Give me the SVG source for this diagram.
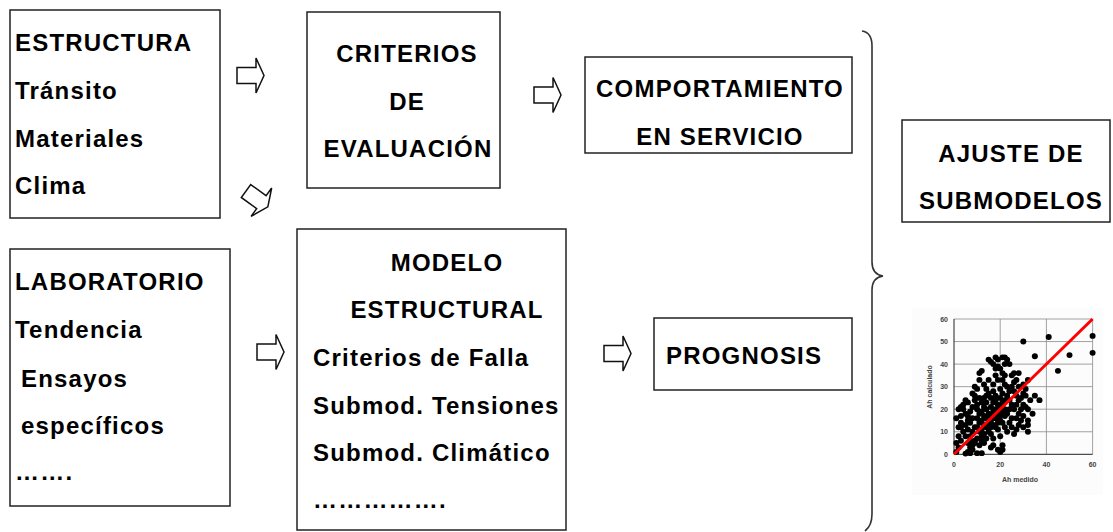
<svg xmlns="http://www.w3.org/2000/svg" xmlns:xlink="http://www.w3.org/1999/xlink" width="1113" height="532" viewBox="0 0 1113 532">
<style>
.box{fill:#fff;stroke:#222;stroke-width:1.5}
.t{font-family:"Liberation Sans",Arial,sans-serif;font-weight:bold;font-size:24px;letter-spacing:1.2px;fill:#000}
.c{text-anchor:middle}
.arr{fill:#fff;stroke:#111;stroke-width:1.5;stroke-linejoin:miter}
.grid{stroke:#8a8a8a;stroke-width:0.8;fill:none}
.tick{font-family:"Liberation Sans",Arial,sans-serif;font-weight:bold;font-size:7px;fill:#444}
.pts circle{fill:#000}
</style>
<defs>
<path id="arrow" class="arr" d="M0,-8 H19 V-17.5 L27,0 L19,17.5 V8 H0 Z"/>
</defs>
<rect width="1113" height="532" fill="#fff"/>

<g id="estructura">
<rect class="box" x="10" y="10" width="210" height="208"/>
<text class="t" x="15" y="51">ESTRUCTURA</text>
<text class="t" x="15" y="99">Tránsito</text>
<text class="t" x="15" y="147">Materiales</text>
<text class="t" x="15" y="194">Clima</text>
</g>

<g id="criterios">
<rect class="box" x="307" y="12" width="193" height="176"/>
<text class="t c" x="407" y="62">CRITERIOS</text>
<text class="t c" x="407" y="110">DE</text>
<text class="t c" x="408" y="157">EVALUACIÓN</text>
</g>

<g id="comportamiento">
<rect class="box" x="585" y="57" width="267" height="96"/>
<text class="t c" x="720" y="97">COMPORTAMIENTO</text>
<text class="t c" x="720" y="145">EN SERVICIO</text>
</g>

<g id="laboratorio">
<rect class="box" x="10" y="249" width="220" height="257"/>
<text class="t" x="15" y="290">LABORATORIO</text>
<text class="t" x="15" y="338">Tendencia</text>
<text class="t" x="21" y="387">Ensayos</text>
<text class="t" x="21" y="434">específicos</text>
<text class="t" x="15" y="480">…….</text>
</g>

<g id="modelo">
<rect class="box" x="297" y="229" width="269" height="301"/>
<text class="t c" x="447" y="271">MODELO</text>
<text class="t c" x="447" y="318">ESTRUCTURAL</text>
<text class="t" x="313" y="366">Criterios de Falla</text>
<text class="t" x="313" y="414">Submod. Tensiones</text>
<text class="t" x="313" y="461">Submod.  Climático</text>
<text class="t" x="313" y="508">…………….</text>
</g>

<g id="prognosis">
<rect class="box" x="654" y="318" width="198" height="72"/>
<text class="t" x="666" y="364">PROGNOSIS</text>
</g>

<g id="ajuste">
<rect class="box" x="902" y="120" width="208" height="102"/>
<text class="t c" x="1011" y="162">AJUSTE DE</text>
<text class="t c" x="1011" y="209">SUBMODELOS</text>
</g>

<g id="connectors">
<use xlink:href="#arrow" transform="translate(237,75.5)"/>
<use xlink:href="#arrow" transform="translate(246,191) rotate(36)"/>
<use xlink:href="#arrow" transform="translate(534,95)"/>
<use xlink:href="#arrow" transform="translate(257,352)"/>
<use xlink:href="#arrow" transform="translate(604,353.5)"/>
<path d="M862,31 C869,32 872,37 872,46 L872,262 C872,270 876,275 883,276 C876,277 872,282 872,290 L872,514 C872,523 869,528 865,531" fill="none" stroke="#333" stroke-width="1.6"/>
</g>

<g id="grafico">
<rect x="912" y="308" width="191" height="187" fill="#fcfcfc"/>
<g class="grid">
<line x1="1000.2" y1="319" x2="1000.2" y2="454.3"/>
<line x1="1046.4" y1="319" x2="1046.4" y2="454.3"/>
<line x1="1092.6" y1="319" x2="1092.6" y2="454.3"/>
<line x1="954" y1="319" x2="1092.6" y2="319"/>
<line x1="954" y1="341.55" x2="1092.6" y2="341.55"/>
<line x1="954" y1="364.1" x2="1092.6" y2="364.1"/>
<line x1="954" y1="386.65" x2="1092.6" y2="386.65"/>
<line x1="954" y1="409.2" x2="1092.6" y2="409.2"/>
<line x1="954" y1="431.75" x2="1092.6" y2="431.75"/>
</g>
<path d="M954,319 V454.3 H1092.6" fill="none" stroke="#222" stroke-width="1"/>
<g class="tick" text-anchor="end">
<text x="948" y="321.5">60</text>
<text x="948" y="344">50</text>
<text x="948" y="366.6">40</text>
<text x="948" y="389.1">30</text>
<text x="948" y="411.7">20</text>
<text x="948" y="434.2">10</text>
<text x="948" y="456.8">0</text>
</g>
<g class="tick" text-anchor="middle">
<text x="954" y="467">0</text>
<text x="1000.2" y="467">20</text>
<text x="1046.4" y="467">40</text>
<text x="1092.6" y="467">60</text>
<text x="1020" y="482">Ah medido</text>
<text transform="translate(932,387) rotate(-90)">Ah calculado</text>
</g>
<g class="pts" transform="translate(954 454.3) scale(2.31 -2.255)">
<circle cx="1" cy="1" r="1.3"/><circle cx="2" cy="3" r="1.3"/><circle cx="1" cy="5" r="1.3"/><circle cx="2" cy="8" r="1.3"/><circle cx="3" cy="6" r="1.3"/><circle cx="4" cy="10" r="1.3"/><circle cx="2" cy="12" r="1.3"/><circle cx="3" cy="14" r="1.3"/><circle cx="1" cy="16" r="1.3"/><circle cx="3" cy="17" r="1.3"/><circle cx="2" cy="20" r="1.3"/><circle cx="3" cy="21" r="1.3"/><circle cx="4" cy="20" r="1.3"/><circle cx="5" cy="18" r="1.3"/><circle cx="5" cy="13" r="1.3"/><circle cx="6" cy="11" r="1.3"/><circle cx="5" cy="8" r="1.3"/><circle cx="6" cy="5" r="1.3"/><circle cx="7" cy="3" r="1.3"/><circle cx="6" cy="1" r="1.3"/><circle cx="7" cy="0.5" r="1.3"/><circle cx="8" cy="2" r="1.3"/><circle cx="8" cy="4" r="1.3"/><circle cx="9" cy="6" r="1.3"/><circle cx="7" cy="8" r="1.3"/><circle cx="8" cy="10" r="1.3"/><circle cx="9" cy="12" r="1.3"/><circle cx="7" cy="14" r="1.3"/><circle cx="8" cy="16" r="1.3"/><circle cx="6" cy="17" r="1.3"/><circle cx="7" cy="19" r="1.3"/><circle cx="8" cy="21" r="1.3"/><circle cx="6" cy="23" r="1.3"/><circle cx="9" cy="24" r="1.3"/><circle cx="10" cy="22" r="1.3"/><circle cx="10" cy="20" r="1.3"/><circle cx="11" cy="18" r="1.3"/><circle cx="10" cy="16" r="1.3"/><circle cx="11" cy="14" r="1.3"/><circle cx="10" cy="12" r="1.3"/><circle cx="11" cy="10" r="1.3"/><circle cx="12" cy="8" r="1.3"/><circle cx="10" cy="7" r="1.3"/><circle cx="9" cy="5" r="1.3"/><circle cx="11" cy="4" r="1.3"/><circle cx="12" cy="6" r="1.3"/><circle cx="13" cy="9" r="1.3"/><circle cx="12" cy="11" r="1.3"/><circle cx="13" cy="13" r="1.3"/><circle cx="12" cy="15" r="1.3"/><circle cx="13" cy="17" r="1.3"/><circle cx="12" cy="19" r="1.3"/><circle cx="13" cy="21" r="1.3"/><circle cx="12" cy="23" r="1.3"/><circle cx="11" cy="25" r="1.3"/><circle cx="13" cy="25" r="1.3"/><circle cx="14" cy="23" r="1.3"/><circle cx="14" cy="20" r="1.3"/><circle cx="15" cy="18" r="1.3"/><circle cx="14" cy="16" r="1.3"/><circle cx="15" cy="14" r="1.3"/><circle cx="14" cy="12" r="1.3"/><circle cx="15" cy="10" r="1.3"/><circle cx="16" cy="12" r="1.3"/><circle cx="16" cy="15" r="1.3"/><circle cx="16" cy="17" r="1.3"/><circle cx="17" cy="19" r="1.3"/><circle cx="16" cy="21" r="1.3"/><circle cx="17" cy="23" r="1.3"/><circle cx="16" cy="25" r="1.3"/><circle cx="15" cy="27" r="1.3"/><circle cx="17" cy="28" r="1.3"/><circle cx="18" cy="26" r="1.3"/><circle cx="18" cy="24" r="1.3"/><circle cx="19" cy="22" r="1.3"/><circle cx="18" cy="20" r="1.3"/><circle cx="19" cy="18" r="1.3"/><circle cx="18" cy="16" r="1.3"/><circle cx="19" cy="14" r="1.3"/><circle cx="18" cy="12" r="1.3"/><circle cx="20" cy="15" r="1.3"/><circle cx="20" cy="17" r="1.3"/><circle cx="21" cy="19" r="1.3"/><circle cx="20" cy="21" r="1.3"/><circle cx="21" cy="23" r="1.3"/><circle cx="20" cy="25" r="1.3"/><circle cx="21" cy="27" r="1.3"/><circle cx="20" cy="29" r="1.3"/><circle cx="22" cy="31" r="1.3"/><circle cx="21" cy="33" r="1.3"/><circle cx="22" cy="35" r="1.3"/><circle cx="20" cy="38" r="1.3"/><circle cx="22" cy="40" r="1.3"/><circle cx="23" cy="42" r="1.3"/><circle cx="22" cy="43" r="1.3"/><circle cx="19" cy="39" r="1.3"/><circle cx="18" cy="38" r="1.3"/><circle cx="17" cy="40" r="1.3"/><circle cx="16" cy="41" r="1.3"/><circle cx="15" cy="42" r="1.3"/><circle cx="12" cy="37" r="1.3"/><circle cx="11" cy="36" r="1.3"/><circle cx="18" cy="43" r="1.3"/><circle cx="21" cy="36" r="1.3"/><circle cx="23" cy="30" r="1.3"/><circle cx="24" cy="28" r="1.3"/><circle cx="23" cy="26" r="1.3"/><circle cx="24" cy="24" r="1.3"/><circle cx="25" cy="22" r="1.3"/><circle cx="24" cy="20" r="1.3"/><circle cx="23" cy="18" r="1.3"/><circle cx="25" cy="16" r="1.3"/><circle cx="24" cy="14" r="1.3"/><circle cx="22" cy="12" r="1.3"/><circle cx="23" cy="10" r="1.3"/><circle cx="25" cy="30" r="1.3"/><circle cx="26" cy="32" r="1.3"/><circle cx="25" cy="35" r="1.3"/><circle cx="27" cy="33" r="1.3"/><circle cx="28" cy="30" r="1.3"/><circle cx="26" cy="28" r="1.3"/><circle cx="27" cy="26" r="1.3"/><circle cx="28" cy="24" r="1.3"/><circle cx="27" cy="22" r="1.3"/><circle cx="26" cy="20" r="1.3"/><circle cx="28" cy="18" r="1.3"/><circle cx="27" cy="16" r="1.3"/><circle cx="29" cy="20" r="1.3"/><circle cx="30" cy="22" r="1.3"/><circle cx="29" cy="25" r="1.3"/><circle cx="30" cy="27" r="1.3"/><circle cx="31" cy="29" r="1.3"/><circle cx="30" cy="31" r="1.3"/><circle cx="32" cy="33" r="1.3"/><circle cx="31" cy="26" r="1.3"/><circle cx="32" cy="20" r="1.3"/><circle cx="33" cy="24" r="1.3"/><circle cx="35" cy="26" r="1.3"/><circle cx="37" cy="24" r="1.3"/><circle cx="34" cy="18" r="1.3"/><circle cx="32" cy="15" r="1.3"/><circle cx="32" cy="13" r="1.3"/><circle cx="32" cy="10" r="1.3"/><circle cx="30" cy="12" r="1.3"/><circle cx="26" cy="9" r="1.3"/><circle cx="27" cy="11" r="1.3"/><circle cx="21" cy="4" r="1.3"/><circle cx="21" cy="2" r="1.3"/><circle cx="20" cy="1" r="1.3"/><circle cx="17" cy="4" r="1.3"/><circle cx="16" cy="3" r="1.3"/><circle cx="19" cy="2" r="1.3"/><circle cx="12" cy="0.5" r="1.3"/><circle cx="10" cy="0.5" r="1.3"/><circle cx="5" cy="0.3" r="1.3"/><circle cx="7" cy="6" r="1.3"/><circle cx="6" cy="15" r="1.3"/><circle cx="4" cy="22" r="1.3"/><circle cx="3" cy="12" r="1.3"/><circle cx="5" cy="24" r="1.3"/><circle cx="9" cy="26" r="1.3"/><circle cx="14" cy="29" r="1.3"/><circle cx="13" cy="31" r="1.3"/><circle cx="15" cy="33" r="1.3"/><circle cx="19" cy="33" r="1.3"/><circle cx="17" cy="31" r="1.3"/><circle cx="18" cy="35" r="1.3"/><circle cx="22" cy="24" r="1.3"/><circle cx="22" cy="20" r="1.3"/><circle cx="22" cy="17" r="1.3"/><circle cx="21" cy="14" r="1.3"/><circle cx="19" cy="11" r="1.3"/><circle cx="17" cy="13" r="1.3"/><circle cx="16" cy="9" r="1.3"/><circle cx="14" cy="7" r="1.3"/><circle cx="13" cy="5" r="1.3"/><circle cx="17" cy="7" r="1.3"/><circle cx="20" cy="8" r="1.3"/><circle cx="25" cy="12" r="1.3"/><circle cx="28" cy="13" r="1.3"/><circle cx="29" cy="15" r="1.3"/><circle cx="30" cy="17" r="1.3"/><circle cx="31" cy="21" r="1.3"/><circle cx="14" cy="26" r="1.3"/><circle cx="10" cy="29" r="1.3"/><circle cx="8" cy="27" r="1.3"/><circle cx="9" cy="30" r="1.3"/><circle cx="11" cy="33" r="1.3"/><circle cx="30" cy="50" r="1.3"/><circle cx="41" cy="52" r="1.3"/><circle cx="35" cy="43.5" r="1.3"/><circle cx="45" cy="37" r="1.3"/><circle cx="50" cy="44" r="1.3"/><circle cx="60" cy="52.5" r="1.3"/><circle cx="60" cy="45" r="1.3"/><circle cx="28" cy="36" r="1.3"/><circle cx="26" cy="36" r="1.3"/><circle cx="24" cy="40" r="1.3"/><circle cx="21" cy="43" r="1.3"/><circle cx="19" cy="42" r="1.3"/>
</g>
<line x1="954" y1="454.3" x2="1092.6" y2="319" stroke="#ff0000" stroke-width="3"/>
</g>
</svg>
